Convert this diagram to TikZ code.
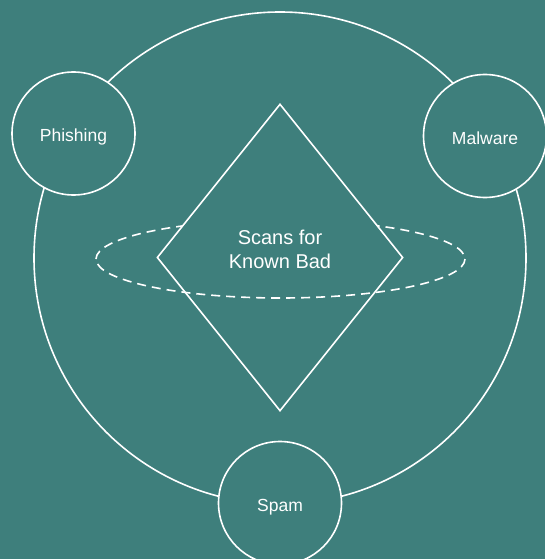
\documentclass[tikz,border=0pt]{standalone}
\usepackage{fontspec}
\setmainfont{Liberation Sans}
\usetikzlibrary{shapes.geometric}
\definecolor{bg}{HTML}{3E7F7C}
\tikzset{
  ring/.style={circle, draw=white, line width=1.6pt, inner sep=0pt},
  topic/.style={ring, fill=bg, minimum size=123pt, text=white, text height=16pt, text depth=0pt, font=\fontsize{17.5}{20}\selectfont},
  core/.style={diamond, draw=white, fill=bg, line width=1.6pt, inner sep=0pt, minimum width=246pt, minimum height=307pt},
  corelabel/.style={text=white, align=center, inner sep=0pt, font=\fontsize{20}{24}\selectfont},
  orbit/.style={draw=white, line width=1.6pt, dash pattern=on 9pt off 6pt}
}
\begin{document}
\begin{tikzpicture}[x=1pt,y=-1pt]
\fill[bg] (0,0) rectangle (545,559);
\useasboundingbox (0,0) rectangle (545,559);
\node[ring, minimum size=492pt] (big) at (280,258) {};
\coordinate (ec) at (280.5,259);
\draw[orbit] (ec) ++(-184.5,0) arc[start angle=180, end angle=360, x radius=184.5, y radius=39];
\node[core] (scan) at (280,257.5) {};
\node[corelabel] (scantext) at ([yshift=8pt]scan.center) {Scans for\\Known Bad};
\draw[orbit] (ec) ++(184.5,0) arc[start angle=0, end angle=180, x radius=184.5, y radius=39];
\node[topic] (phish) at (73.5,133.5) {Phishing};
\node[topic] (mal) at (485,136) {Malware};
\node[topic] (spam) at (280,503) {Spam};
\end{tikzpicture}
\end{document}
